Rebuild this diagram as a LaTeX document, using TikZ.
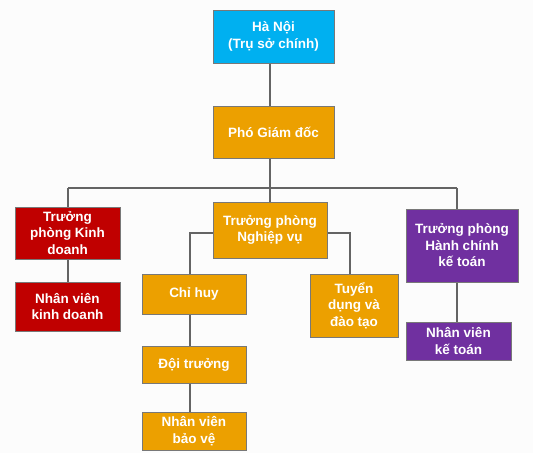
\documentclass[tikz,border=0pt]{standalone}
\usepackage{fontspec}
\setmainfont{Liberation Sans}
\definecolor{bgc}{RGB}{252,252,252}
\definecolor{cyanbox}{RGB}{0,176,240}
\definecolor{orangebox}{RGB}{236,160,0}
\definecolor{redbox}{RGB}{192,0,0}
\definecolor{purplebox}{RGB}{112,48,160}
\definecolor{edgec}{RGB}{120,120,120}
\definecolor{linec}{RGB}{100,100,100}
\tikzset{
  orgbox/.style={draw=edgec, line width=1pt, inner sep=0pt, align=center,
    text=white, font=\fontsize{13.5}{16.5}\selectfont\bfseries},
  conn/.style={draw=linec, line width=1.4pt},
}
\begin{document}
\begin{tikzpicture}[x=1pt,y=-1pt]
\fill[bgc] (0,0) rectangle (533,453);
\useasboundingbox (0,0) rectangle (533,453);
% boxes
\node[orgbox, fill=cyanbox, minimum width=121pt, minimum height=53pt] (hn) at (273.5,36.5) {Hà Nội\\(Trụ sở chính)};
\node[orgbox, fill=orangebox, minimum width=121pt, minimum height=52pt] (pgd) at (273.5,132) {Phó Giám đốc};
\node[orgbox, fill=redbox, minimum width=105pt, minimum height=52pt] (kd) at (67.5,233) {Trưởng\\phòng Kinh\\doanh};
\node[orgbox, fill=redbox, minimum width=105pt, minimum height=49pt] (nvkd) at (67.5,306.5) {Nhân viên\\kinh doanh};
\node[orgbox, fill=orangebox, minimum width=114pt, minimum height=56pt] (nv) at (270,230) {Trưởng phòng\\Nghiệp vụ};
\node[orgbox, fill=purplebox, minimum width=112pt, minimum height=73pt] (hc) at (462,245.5) {Trưởng phòng\\Hành chính\\kế toán};
\node[orgbox, fill=purplebox, minimum width=105pt, minimum height=38pt] (nvkt) at (458.5,341) {Nhân viên\\kế toán};
\node[orgbox, fill=orangebox, minimum width=104pt, minimum height=40pt] (ch) at (194,294) {Chỉ huy};
\node[orgbox, fill=orangebox, minimum width=104pt, minimum height=37pt] (dt) at (194,364.5) {Đội trưởng};
\node[orgbox, fill=orangebox, minimum width=104pt, minimum height=38pt] (bv) at (194,431) {Nhân viên\\bảo vệ};
\node[orgbox, fill=orangebox, minimum width=88pt, minimum height=63pt] (td) at (354,305.5) {Tuyển\\dụng và\\đào tạo};
% helper coordinates
\coordinate (cmid) at (270,188);
\coordinate (cleft) at (68,188);
\coordinate (cright) at (457,188);
\coordinate (cch) at (190,274);
\coordinate (ctd) at (350,274);
% connectors
\draw[conn] (hn.south -| cmid) -- (pgd.north -| cmid);
\draw[conn] (pgd.south -| cmid) -- (cmid);
\draw[conn] (cleft) -- (cright);
\draw[conn] (cleft) -- (kd.north -| cleft);
\draw[conn] (cmid) -- (nv.north -| cmid);
\draw[conn] (cright) -- (hc.north -| cright);
\draw[conn] (kd.south -| cleft) -- (nvkd.north -| cleft);
\draw[conn] (hc.south -| cright) -- (nvkt.north -| cright);
\draw[conn] ([yshift=-3pt]nv.west) -| (cch);
\draw[conn] ([yshift=-3pt]nv.east) -| (ctd);
\draw[conn] (ch.south -| cch) -- (dt.north -| cch);
\draw[conn] (dt.south -| cch) -- (bv.north -| cch);
\end{tikzpicture}
\end{document}
